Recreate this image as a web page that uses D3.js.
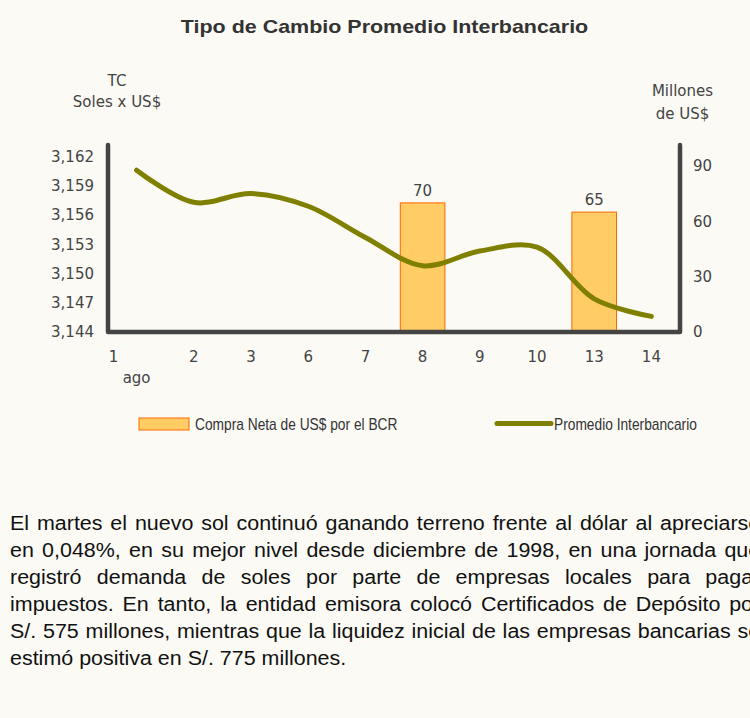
<!DOCTYPE html>
<html>
<head>
<meta charset="utf-8">
<script src="https://cdn.jsdelivr.net/npm/d3@7"></script>
<style>
    body { margin: 0; background: #fbfaf5; width: 750px; height: 718px; overflow: hidden; position: relative; }
    svg { position: absolute; left: 0; top: 0; }
    #para {
        position: absolute; left: 10px; top: 510px; width: 682px;
        transform: scaleX(1.1); transform-origin: 0 0;
        font-family: "Liberation Sans", Arial, sans-serif; font-size: 19.5px; line-height: 27.1px; color: #111;
    }
    #para div { text-align: justify; text-align-last: justify; }
    #para div.last { text-align-last: left; }
</style>
</head>
<body>
<div id="chart"></div>
<div id="para"></div>
<script>
// datos
const categories = ['1', '2', '3', '6', '7', '8', '9', '10', '13', '14'];
const tipoCambio = [3.1606, 3.1573, 3.1582, 3.1569, 3.1537, 3.1508, 3.1523, 3.1527, 3.1474, 3.1456];
const compraNeta = [null, null, null, null, null, 70, null, null, 65, null];
const tcTicks = [3.144, 3.147, 3.150, 3.153, 3.156, 3.159, 3.162];
const usdTicks = [0, 30, 60, 90];
const paragraph = [
    'El martes el nuevo sol continuó ganando terreno frente al dólar al apreciarse',
    'en 0,048%, en su mejor nivel desde diciembre de 1998, en una jornada que',
    'registró demanda de soles por parte de empresas locales para pagar',
    'impuestos. En tanto, la entidad emisora colocó Certificados de Depósito por',
    'S/. 575 millones, mientras que la liquidez inicial de las empresas bancarias se',
    'estimó positiva en S/. 775 millones.'
];

const width = 750;
const height = 480;
const plotLeft = 108;
const plotRight = 680;
const plotBottom = 332;
const axisTop = 145;
const axisFont = '"DejaVu Sans", Verdana, sans-serif';
const textColor = '#444';

const svg = d3.select('#chart').append('svg')
    .attr('width', width)
    .attr('height', height);

// escalas
const x = d3.scaleBand()
    .domain(categories)
    .range([plotLeft, plotRight]);
const yTC = d3.scaleLinear()
    .domain([3.144, 3.162])
    .range([plotBottom, 156.5]);
const yUSD = d3.scaleLinear()
    .domain([0, 90])
    .range([plotBottom, 166]);

// titulo
svg.append('text')
    .attr('transform', 'translate(384.5,33) scale(1.13,1)')
    .attr('text-anchor', 'middle')
    .attr('font-family', '"Liberation Sans", Arial, sans-serif')
    .attr('font-weight', 'bold')
    .attr('font-size', 19)
    .attr('fill', '#333')
    .text('Tipo de Cambio Promedio Interbancario');

// barras
const barData = categories.map((c, i) => ({ c, v: compraNeta[i] })).filter((d) => d.v != null);
const barW = x.bandwidth() * 0.78;
svg.append('g')
    .selectAll('rect')
    .data(barData)
    .join('rect')
    .attr('x', (d) => x(d.c) + (x.bandwidth() - barW) / 2)
    .attr('width', barW)
    .attr('y', (d) => yUSD(d.v))
    .attr('height', (d) => plotBottom - yUSD(d.v))
    .attr('fill', '#ffcc66')
    .attr('stroke', '#ff6600')
    .attr('stroke-width', 1);

svg.append('g')
    .selectAll('text')
    .data(barData)
    .join('text')
    .attr('x', (d) => x(d.c) + x.bandwidth() / 2)
    .attr('y', (d) => yUSD(d.v) - 7)
    .attr('text-anchor', 'middle')
    .attr('font-family', axisFont)
    .attr('font-size', 15)
    .attr('fill', textColor)
    .text((d) => d.v);

// ejes
const styleAxis = (g) => {
    g.select('.domain').remove();
    g.attr('font-family', axisFont).attr('font-size', 15).attr('color', textColor);
};
svg.append('g')
    .attr('transform', `translate(${plotLeft},0)`)
    .call(d3.axisLeft(yTC).tickValues(tcTicks).tickSize(0).tickPadding(14)
        .tickFormat((d) => d3.format('.3f')(d).replace('.', ',')))
    .call(styleAxis);
svg.append('g')
    .attr('transform', `translate(${plotRight},0)`)
    .call(d3.axisRight(yUSD).tickValues(usdTicks).tickSize(0).tickPadding(13))
    .call(styleAxis);
const xAxisG = svg.append('g')
    .attr('transform', `translate(0,${plotBottom})`)
    .call(d3.axisBottom(x).tickSize(0).tickPadding(19.6))
    .call(styleAxis);
xAxisG.selectAll('.tick text').filter((d, i) => i === 0).attr('x', -23);
svg.append('text')
    .attr('x', x(categories[0]) + x.bandwidth() / 2)
    .attr('y', 383)
    .attr('text-anchor', 'middle')
    .attr('font-family', axisFont)
    .attr('font-size', 15)
    .attr('fill', textColor)
    .text('ago');

// titulos de ejes
const axisTitle = (tx, ty, str) => svg.append('text')
    .attr('x', tx)
    .attr('y', ty)
    .attr('text-anchor', 'middle')
    .attr('font-family', axisFont)
    .attr('font-size', 15)
    .attr('fill', textColor)
    .text(str);
axisTitle(117, 85.5, 'TC');
axisTitle(117, 107, 'Soles x US$');
axisTitle(682.5, 96, 'Millones');
axisTitle(682.5, 118.5, 'de US$');

// marco
svg.append('path')
    .attr('d', `M${plotLeft},${axisTop}V${plotBottom}H${plotRight}V${axisTop}`)
    .attr('fill', 'none')
    .attr('stroke', '#444')
    .attr('stroke-width', 4.5)
    .attr('stroke-linejoin', 'round')
    .attr('stroke-linecap', 'round');

// linea promedio
const linePath = d3.line()
    .x((d, i) => x(categories[i]) + x.bandwidth() / 2)
    .y((d) => yTC(d))
    .curve(d3.curveCatmullRom.alpha(0.5));
svg.append('path')
    .attr('d', linePath(tipoCambio))
    .attr('fill', 'none')
    .attr('stroke', '#808000')
    .attr('stroke-width', 5)
    .attr('stroke-linecap', 'round');

// leyenda (letra angosta)
const legendText = (tx, str) => legend.append('text')
    .attr('transform', `translate(${tx},430) scale(0.86,1)`)
    .attr('font-family', '"Liberation Sans", Arial, sans-serif')
    .attr('font-size', 16)
    .attr('fill', '#333')
    .text(str);
const legend = svg.append('g');
legend.append('rect')
    .attr('x', 139).attr('y', 418).attr('width', 50).attr('height', 12)
    .attr('fill', '#ffcc66').attr('stroke', '#ff6600');
legendText(195, 'Compra Neta de US$ por el BCR');
legend.append('line')
    .attr('x1', 497).attr('x2', 551).attr('y1', 423.5).attr('y2', 423.5)
    .attr('stroke', '#808000').attr('stroke-width', 5).attr('stroke-linecap', 'round');
legendText(554, 'Promedio Interbancario');

// parrafo
d3.select('#para').selectAll('div')
    .data(paragraph)
    .join('div')
    .classed('last', (d, i) => i === paragraph.length - 1)
    .text((d) => d);
</script>
</body>
</html>
